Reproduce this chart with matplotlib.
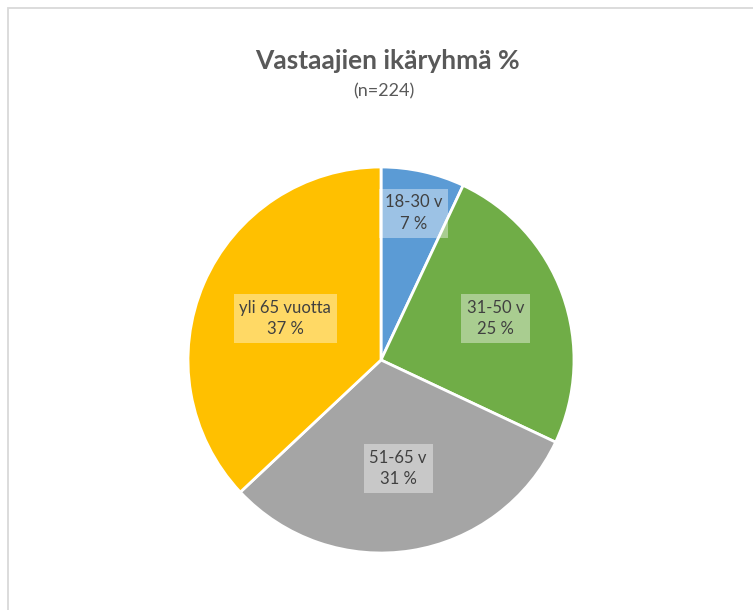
import numpy as np
import matplotlib
matplotlib.use("Agg")
import matplotlib.pyplot as plt
from matplotlib.patches import Rectangle

plt.rcParams['font.family'] = ['Lato', 'DejaVu Sans']

categories = ["18-30 v", "31-50 v", "51-65 v", "yli 65 vuotta"]
percent = [7, 25, 31, 37]
colors = ["#5B9BD5", "#70AD47", "#A5A5A5", "#FFC000"]
label_radius = [0.78, 0.63, 0.57, 0.54]

W, H = 753, 610
fig = plt.figure(figsize=(W / 100, H / 100), dpi=100)
fig.patch.set_facecolor("white")

# chart border (partially cropped)
fig.patches.append(Rectangle((8 / W, -0.1), 1.2, (H - 8) / H + 0.1,
                             transform=fig.transFigure, fill=False,
                             edgecolor="#D9D9D9", linewidth=1.3))

cx, cy, r = 381, 360, 193
ax = fig.add_axes([(cx - r) / W, (H - cy - r) / H, 2 * r / W, 2 * r / H])
wedges, _ = ax.pie(percent, colors=colors, startangle=90, counterclock=False,
                   wedgeprops=dict(edgecolor="white", linewidth=2),
                   radius=1.0)
ax.set_xlim(-1, 1)
ax.set_ylim(-1, 1)
ax.set_aspect("equal")
ax.axis("off")

for w, cat, p, lr in zip(wedges, categories, percent, label_radius):
    ang = np.deg2rad((w.theta1 + w.theta2) / 2)
    x, y = lr * np.cos(ang), lr * np.sin(ang)
    ax.text(x, y, f"{cat}\n{p} %", ha="center", va="center",
            fontsize=12, color="#404040", linespacing=1.4,
            bbox=dict(boxstyle="square,pad=0.35", facecolor="white",
                      alpha=0.4, edgecolor="none"))

fig.text(387 / W, 1 - 61 / H, "Vastaajien ikäryhmä %", ha="center", va="center",
         fontsize=19, fontweight="bold", color="#595959")
fig.text(384 / W, 1 - 91 / H, "(n=224)", ha="center", va="center",
         fontsize=13, color="#595959")

fig.savefig("out.png", dpi=100, facecolor="white")
